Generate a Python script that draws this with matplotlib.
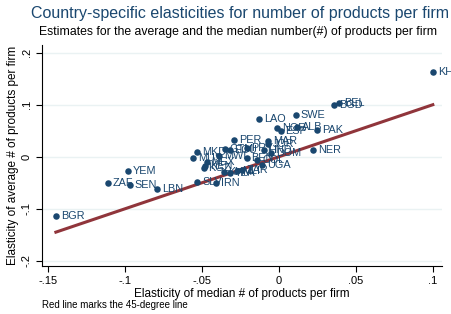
import numpy as np
import matplotlib
matplotlib.use("Agg")
import matplotlib.pyplot as plt

plt.rcParams['font.family'] = ['Liberation Sans', 'DejaVu Sans']

# country codes and elasticities (median x, average y)
codes = ["KHI", "BEL", "BGD", "LAO", "SWE", "NOR", "ESP", "ALB", "PAK",
         "MAR", "JOR", "PER", "GTM", "ECU", "PRY", "HND", "DOM", "MKD",
         "MUS", "MWI", "BEN", "COL", "NER", "UGA", "MEX", "KEN", "KGZ",
         "KHM", "TZA", "MLI", "ZAR", "SLV", "IRN", "YEM", "ZAF", "SEN",
         "LBN", "BGR"]
med = [0.100, 0.039, 0.036, -0.013, 0.011, -0.001, 0.001, 0.012, 0.025,
       -0.007, -0.007, -0.029, -0.035, -0.032, -0.021, -0.010, -0.005, -0.053,
       -0.056, -0.039, -0.021, -0.014, 0.022, -0.011, -0.047, -0.048, -0.049,
       -0.036, -0.032, -0.027, -0.024, -0.053, -0.041, -0.098, -0.111, -0.097,
       -0.079, -0.145]
avg = [0.163, 0.104, 0.100, 0.073, 0.081, 0.056, 0.050, 0.058, 0.052,
       0.031, 0.025, 0.033, 0.015, 0.012, 0.017, 0.012, 0.008, 0.010,
       -0.002, 0.002, -0.002, -0.006, 0.013, -0.015, -0.010, -0.017, -0.021,
       -0.029, -0.031, -0.027, -0.025, -0.048, -0.050, -0.027, -0.050, -0.054,
       -0.063, -0.113]

navy = '#1a476f'
red = '#90353b'

fig = plt.figure(figsize=(4.52, 3.14), dpi=100)
ax = fig.add_axes([0.093, 0.153, 0.885, 0.704])

ax.grid(axis='y', color='#eaf2f3', linewidth=1)
ax.set_axisbelow(True)

ax.scatter(med, avg, s=22, color=navy, zorder=3, linewidths=0)
for c, x, y in zip(codes, med, avg):
    ax.annotate(c, (x, y), xytext=(3.5, 0), textcoords='offset points',
                va='center', ha='left', fontsize=7.8, color=navy, zorder=4)

# 45-degree line over the range of the data
lo, hi = min(med), max(med)
ax.plot([lo, hi], [lo, hi], color=red, linewidth=2.2, zorder=2)

ax.set_xlim(-0.154, 0.106)
ax.set_ylim(-0.21, 0.215)
ax.set_xticks([-0.15, -0.1, -0.05, 0, 0.05, 0.1])
ax.set_xticklabels(["-.15", "-.1", "-.05", "0", ".05", ".1"])
ax.set_yticks([-0.2, -0.1, 0, 0.1, 0.2])
ax.set_yticklabels(["-.2", "-.1", "0", ".1", ".2"], rotation=90, va='center')
ax.tick_params(labelsize=8, length=4, width=0.8, color='black')

for s in ['top', 'right']:
    ax.spines[s].set_visible(False)

ax.set_xlabel("Elasticity of median # of products per firm", fontsize=8.5, labelpad=1)
ax.set_ylabel("Elasticity of average # of products per firm", fontsize=8.5, labelpad=2)

fig.text(0.531, 0.958, "Country-specific elasticities for number of products per firm",
         ha='center', va='center', fontsize=11.5, color=navy)
fig.text(0.527, 0.898, "Estimates for the average and the median number(#) of products per firm",
         ha='center', va='center', fontsize=8.85)
fig.text(0.093, 0.028, "Red line marks the 45-degree line", fontsize=7, va='center')

fig.savefig("out.png", dpi=100)
